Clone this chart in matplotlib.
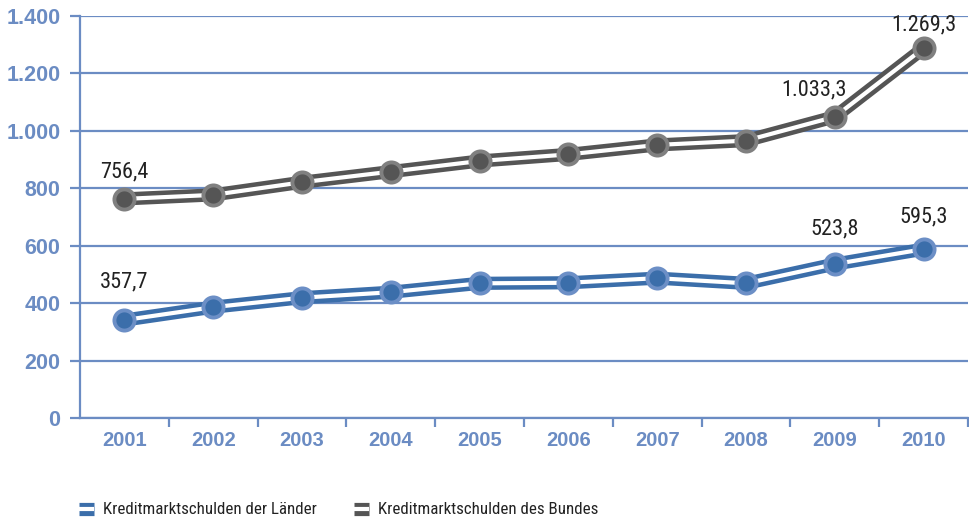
import numpy as np
import matplotlib
matplotlib.use("Agg")
import matplotlib.pyplot as plt
import matplotlib.patheffects as pe
import matplotlib.font_manager as fm
from matplotlib.lines import Line2D
from matplotlib.ticker import FuncFormatter, FixedLocator

# data (Mrd. Euro)
years = ["2001", "2002", "2003", "2004", "2005", "2006", "2007", "2008", "2009", "2010"]
bund = [763, 777, 821, 858, 895, 918, 951, 966, 1049, 1288]
laender = [341, 386, 419, 438, 469, 471, 487, 469, 536, 588]

# value labels shown in the chart: (index, text)
bund_labels = [(0, "756,4"), (8, "1.033,3"), (9, "1.269,3")]
laender_labels = [(0, "357,7"), (8, "523,8"), (9, "595,3")]

series_names = ["Kreditmarktschulden der Länder", "Kreditmarktschulden des Bundes"]

axis_blue = "#6b8cc3"
laender_col = "#3b6eaa"
laender_edge = "#6c8fc6"
bund_col = "#555555"
bund_edge = "#808080"


def find_narrow_font():
    # look for a condensed sans face, fall back to DejaVu Sans
    prefs = ["Liberation Sans Narrow", "DejaVu Sans Condensed", "Roboto Condensed",
             "Open Sans Condensed", "Noto Sans Condensed", "Arial Narrow"]
    fonts = [f for f in fm.fontManager.ttflist
             if f.weight in (400, "normal", "regular", "book") and f.style == "normal"]
    for name in prefs:
        for f in fonts:
            if f.name == name:
                return fm.FontProperties(fname=f.fname)
    for f in fonts:
        if "condensed" in str(f.stretch) or "Narrow" in f.name or "Condensed" in f.name:
            return fm.FontProperties(fname=f.fname)
    for f in fm.fontManager.ttflist:
        if "Condensed" in f.fname and "Bold" not in f.fname and "Oblique" not in f.fname:
            return fm.FontProperties(fname=f.fname)
    return fm.FontProperties(family="DejaVu Sans")


narrow = find_narrow_font()

fig = plt.figure(figsize=(9.7, 5.24), dpi=100)
ax = fig.add_axes([80 / 970, 1 - 418 / 524, 888 / 970, 402 / 524])

x = np.arange(len(years))


def double_line(values, color, edge):
    # thick coloured stroke with a white core -> looks like two parallel lines
    effects = [pe.Stroke(linewidth=9.5, foreground=color),
               pe.Stroke(linewidth=3.0, foreground="white")]
    ax.plot(x, values, color=color, lw=9.5, zorder=3, clip_on=False,
            solid_joinstyle="round", path_effects=effects)
    ax.plot(x, values, "o", ms=14.5, mfc=color, mec=edge, mew=2.8,
            zorder=4, clip_on=False)


double_line(bund, bund_col, bund_edge)
double_line(laender, laender_col, laender_edge)

# value labels
label_offsets = {("b", 0): (0, 27), ("b", 8): (-21, 27), ("b", 9): (0, 23),
                 ("l", 0): (0, 38), ("l", 8): (0, 35), ("l", 9): (0, 32)}
lab_font = narrow.copy()
lab_font.set_size(16)
for key, values, labels in (("b", bund, bund_labels), ("l", laender, laender_labels)):
    for i, txt in labels:
        ax.annotate(txt, (x[i], values[i]), xytext=label_offsets[(key, i)],
                    textcoords="offset pixels", ha="center", va="center",
                    fontproperties=lab_font, color="#222222",
                    annotation_clip=False, zorder=5)

ax.set_xlim(-0.5, 9.5)
ax.set_ylim(0, 1400)
ax.set_yticks(np.arange(0, 1401, 200))
ax.yaxis.set_major_formatter(FuncFormatter(lambda v, p: f"{v:,.0f}".replace(",", ".")))
ax.set_xticks(x)
ax.set_xticklabels(years)
ax.xaxis.set_minor_locator(FixedLocator(np.arange(0.5, 10, 1)))

ax.yaxis.grid(True, color=axis_blue, lw=1.6)
ax.set_axisbelow(True)
for s in ["top", "right"]:
    ax.spines[s].set_visible(False)
for s in ["left", "bottom"]:
    ax.spines[s].set_color(axis_blue)
    ax.spines[s].set_linewidth(1.6)

ax.tick_params(axis="y", length=7.2, width=1.6, color=axis_blue, pad=7,
               labelsize=15.5, labelcolor=axis_blue)
ax.tick_params(axis="x", which="major", length=0, pad=9.5,
               labelsize=14.5, labelcolor=axis_blue)
ax.tick_params(axis="x", which="minor", length=6.5, width=1.6, color=axis_blue)
for lab in ax.get_xticklabels() + ax.get_yticklabels():
    lab.set_fontweight("bold")
    lab.set_family("Liberation Sans")

# legend with double-bar symbols
handles = []
for col in (laender_col, bund_col):
    handles.append(Line2D([0], [0], color=col, lw=9.5, solid_capstyle="butt",
                          path_effects=[pe.Stroke(linewidth=9.5, foreground=col),
                                        pe.Stroke(linewidth=3.0, foreground="white")]))
leg_font = narrow.copy()
leg_font.set_size(12.2)
fig.legend(handles, series_names, loc="center left", bbox_to_anchor=(79 / 970, 14 / 524),
           ncol=2, frameon=False, borderpad=0, borderaxespad=0, handlelength=0.9,
           handletextpad=0.5, columnspacing=2.2,
           prop=leg_font, labelcolor="#222222")

fig.savefig("out.png", dpi=100)
